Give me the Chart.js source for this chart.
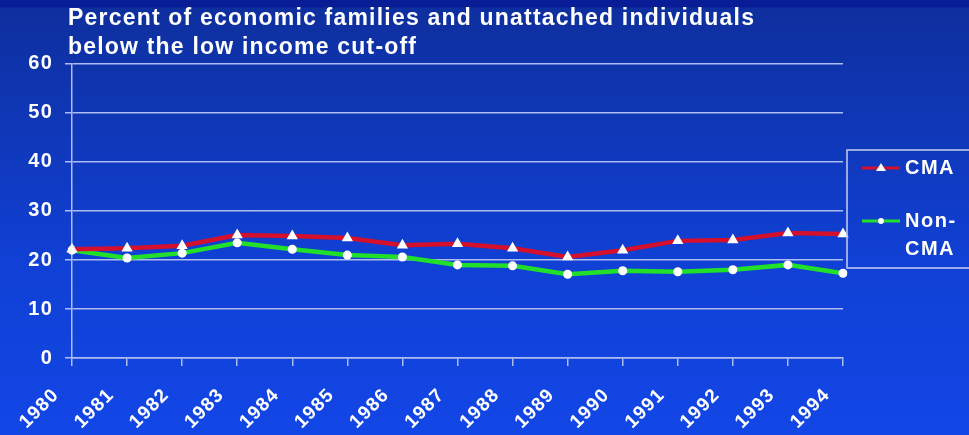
<!DOCTYPE html>
<html>
<head>
<meta charset="utf-8">
<script src="https://cdn.jsdelivr.net/npm/chart.js@4/dist/chart.umd.min.js"></script>
<style>
  html, body { margin: 0; padding: 0; }
  body {
    width: 969px; height: 435px; overflow: hidden;
    background: linear-gradient(to bottom, #081c96 0px, #081c96 7px, #0e2f9e 8px, #1040d4 260px, #1246e6 435px);
  }
  .wrap { position: relative; width: 969px; height: 435px; }
  canvas { display: block; }
</style>
</head>
<body>
<div class="wrap"><canvas id="chart" width="969" height="435"></canvas></div>
<script>
const years = ["1980", "1981", "1982", "1983", "1984", "1985", "1986", "1987",
  "1988", "1989", "1990", "1991", "1992", "1993", "1994"];
const cma = [22.2, 22.4, 22.9, 25.1, 24.9, 24.5, 23.0, 23.3, 22.4, 20.6, 22.0, 23.9, 24.1, 25.5, 25.3];
const nonCma = [22.0, 20.4, 21.4, 23.5, 22.2, 21.0, 20.6, 19.0, 18.8, 17.1, 17.8, 17.6, 18.0, 19.0, 17.3];
const titleLines = ["Percent of economic families and unattached individuals", "below the low income cut-off"];

const gridColor = "#aebcf0";
const fontFam = "'Liberation Sans', Arial, sans-serif";
const spacing = "1.2px";

// legend drawn in a framed box on the right like the original
const boxLegend = {
  id: "boxLegend",
  beforeUpdate(chart) { chart.ctx.letterSpacing = spacing; },
  beforeDraw(chart) { chart.ctx.letterSpacing = spacing; },
  afterLayout(chart) {
    // title starts at the plot's left edge, not the canvas edge
    const t = chart.titleBlock;
    if (t) t.left = chart.chartArea.left - 4;
  },
  afterDraw(chart) {
    const ctx = chart.ctx;
    const x0 = 847, y0 = 150, w = 130, h = 118;
    ctx.save();
    ctx.letterSpacing = "1.5px";
    ctx.strokeStyle = "#c8d0f0";
    ctx.lineWidth = 1.5;
    ctx.strokeRect(x0, y0, w, h);
    ctx.font = "bold 20px " + fontFam;
    ctx.fillStyle = "#ffffff";
    ctx.textBaseline = "middle";
    const rows = [
      { ds: chart.data.datasets[0], y: 168, text: ["CMA"] },
      { ds: chart.data.datasets[1], y: 221, text: ["Non-", "CMA"] }
    ];
    rows.forEach(r => {
      ctx.strokeStyle = r.ds.borderColor;
      ctx.lineWidth = 3;
      ctx.beginPath();
      ctx.moveTo(862, r.y);
      ctx.lineTo(900, r.y);
      ctx.stroke();
      ctx.fillStyle = "#ffffff";
      ctx.beginPath();
      if (r.ds.pointStyle === "triangle") {
        ctx.moveTo(881, r.y - 5);
        ctx.lineTo(886, r.y + 3);
        ctx.lineTo(876, r.y + 3);
        ctx.closePath();
      } else {
        ctx.arc(881, r.y, 3, 0, Math.PI * 2);
      }
      ctx.fill();
      r.text.forEach((s, i) => ctx.fillText(s, 905, r.y + i * 28));
    });
    ctx.restore();
  }
};

new Chart(document.getElementById("chart"), {
  type: "line",
  data: {
    labels: years,
    datasets: [
      {
        label: "CMA", data: cma, borderColor: "#d4102c", borderWidth: 4.5,
        pointStyle: "triangle", pointRadius: 6.5, pointBackgroundColor: "#ffffff",
        pointBorderWidth: 0, tension: 0
      },
      {
        label: "Non-CMA", data: nonCma, borderColor: "#22e02a", borderWidth: 4.5,
        pointStyle: "circle", pointRadius: 4.5, pointBackgroundColor: "#ffffff",
        pointBorderWidth: 0, tension: 0
      }
    ]
  },
  options: {
    responsive: false,
    animation: false,
    devicePixelRatio: 1,
    layout: { padding: { left: 0, right: 126, top: 0, bottom: 0 } },
    plugins: {
      legend: { display: false },
      tooltip: { enabled: false },
      title: {
        display: true,
        text: titleLines,
        align: "start",
        color: "#ffffff",
        font: { family: fontFam, size: 23, weight: "bold", lineHeight: 1.26 },
        padding: { top: 4, bottom: 2 }
      }
    },
    scales: {
      x: {
        offset: false,
        grid: { display: true, drawOnChartArea: false, color: gridColor, tickLength: 8, lineWidth: 1.5 },
        border: { color: gridColor, width: 1.5 },
        ticks: {
          color: "#ffffff", maxRotation: 45, minRotation: 45, padding: 18, labelOffset: -16,
          autoSkip: false,
          font: { family: fontFam, size: 19, weight: "bold" }
        },
        afterFit(scale) { scale.height = 77; }
      },
      y: {
        min: 0, max: 60,
        grid: { color: gridColor, tickLength: 7, lineWidth: 1.5 },
        border: { color: gridColor, width: 1.5 },
        ticks: {
          stepSize: 10, color: "#ffffff", padding: 12,
          font: { family: fontFam, size: 20, weight: "bold" }
        },
        afterFit(scale) { scale.width = 72; }
      }
    }
  },
  plugins: [boxLegend]
});
</script>
</body>
</html>
